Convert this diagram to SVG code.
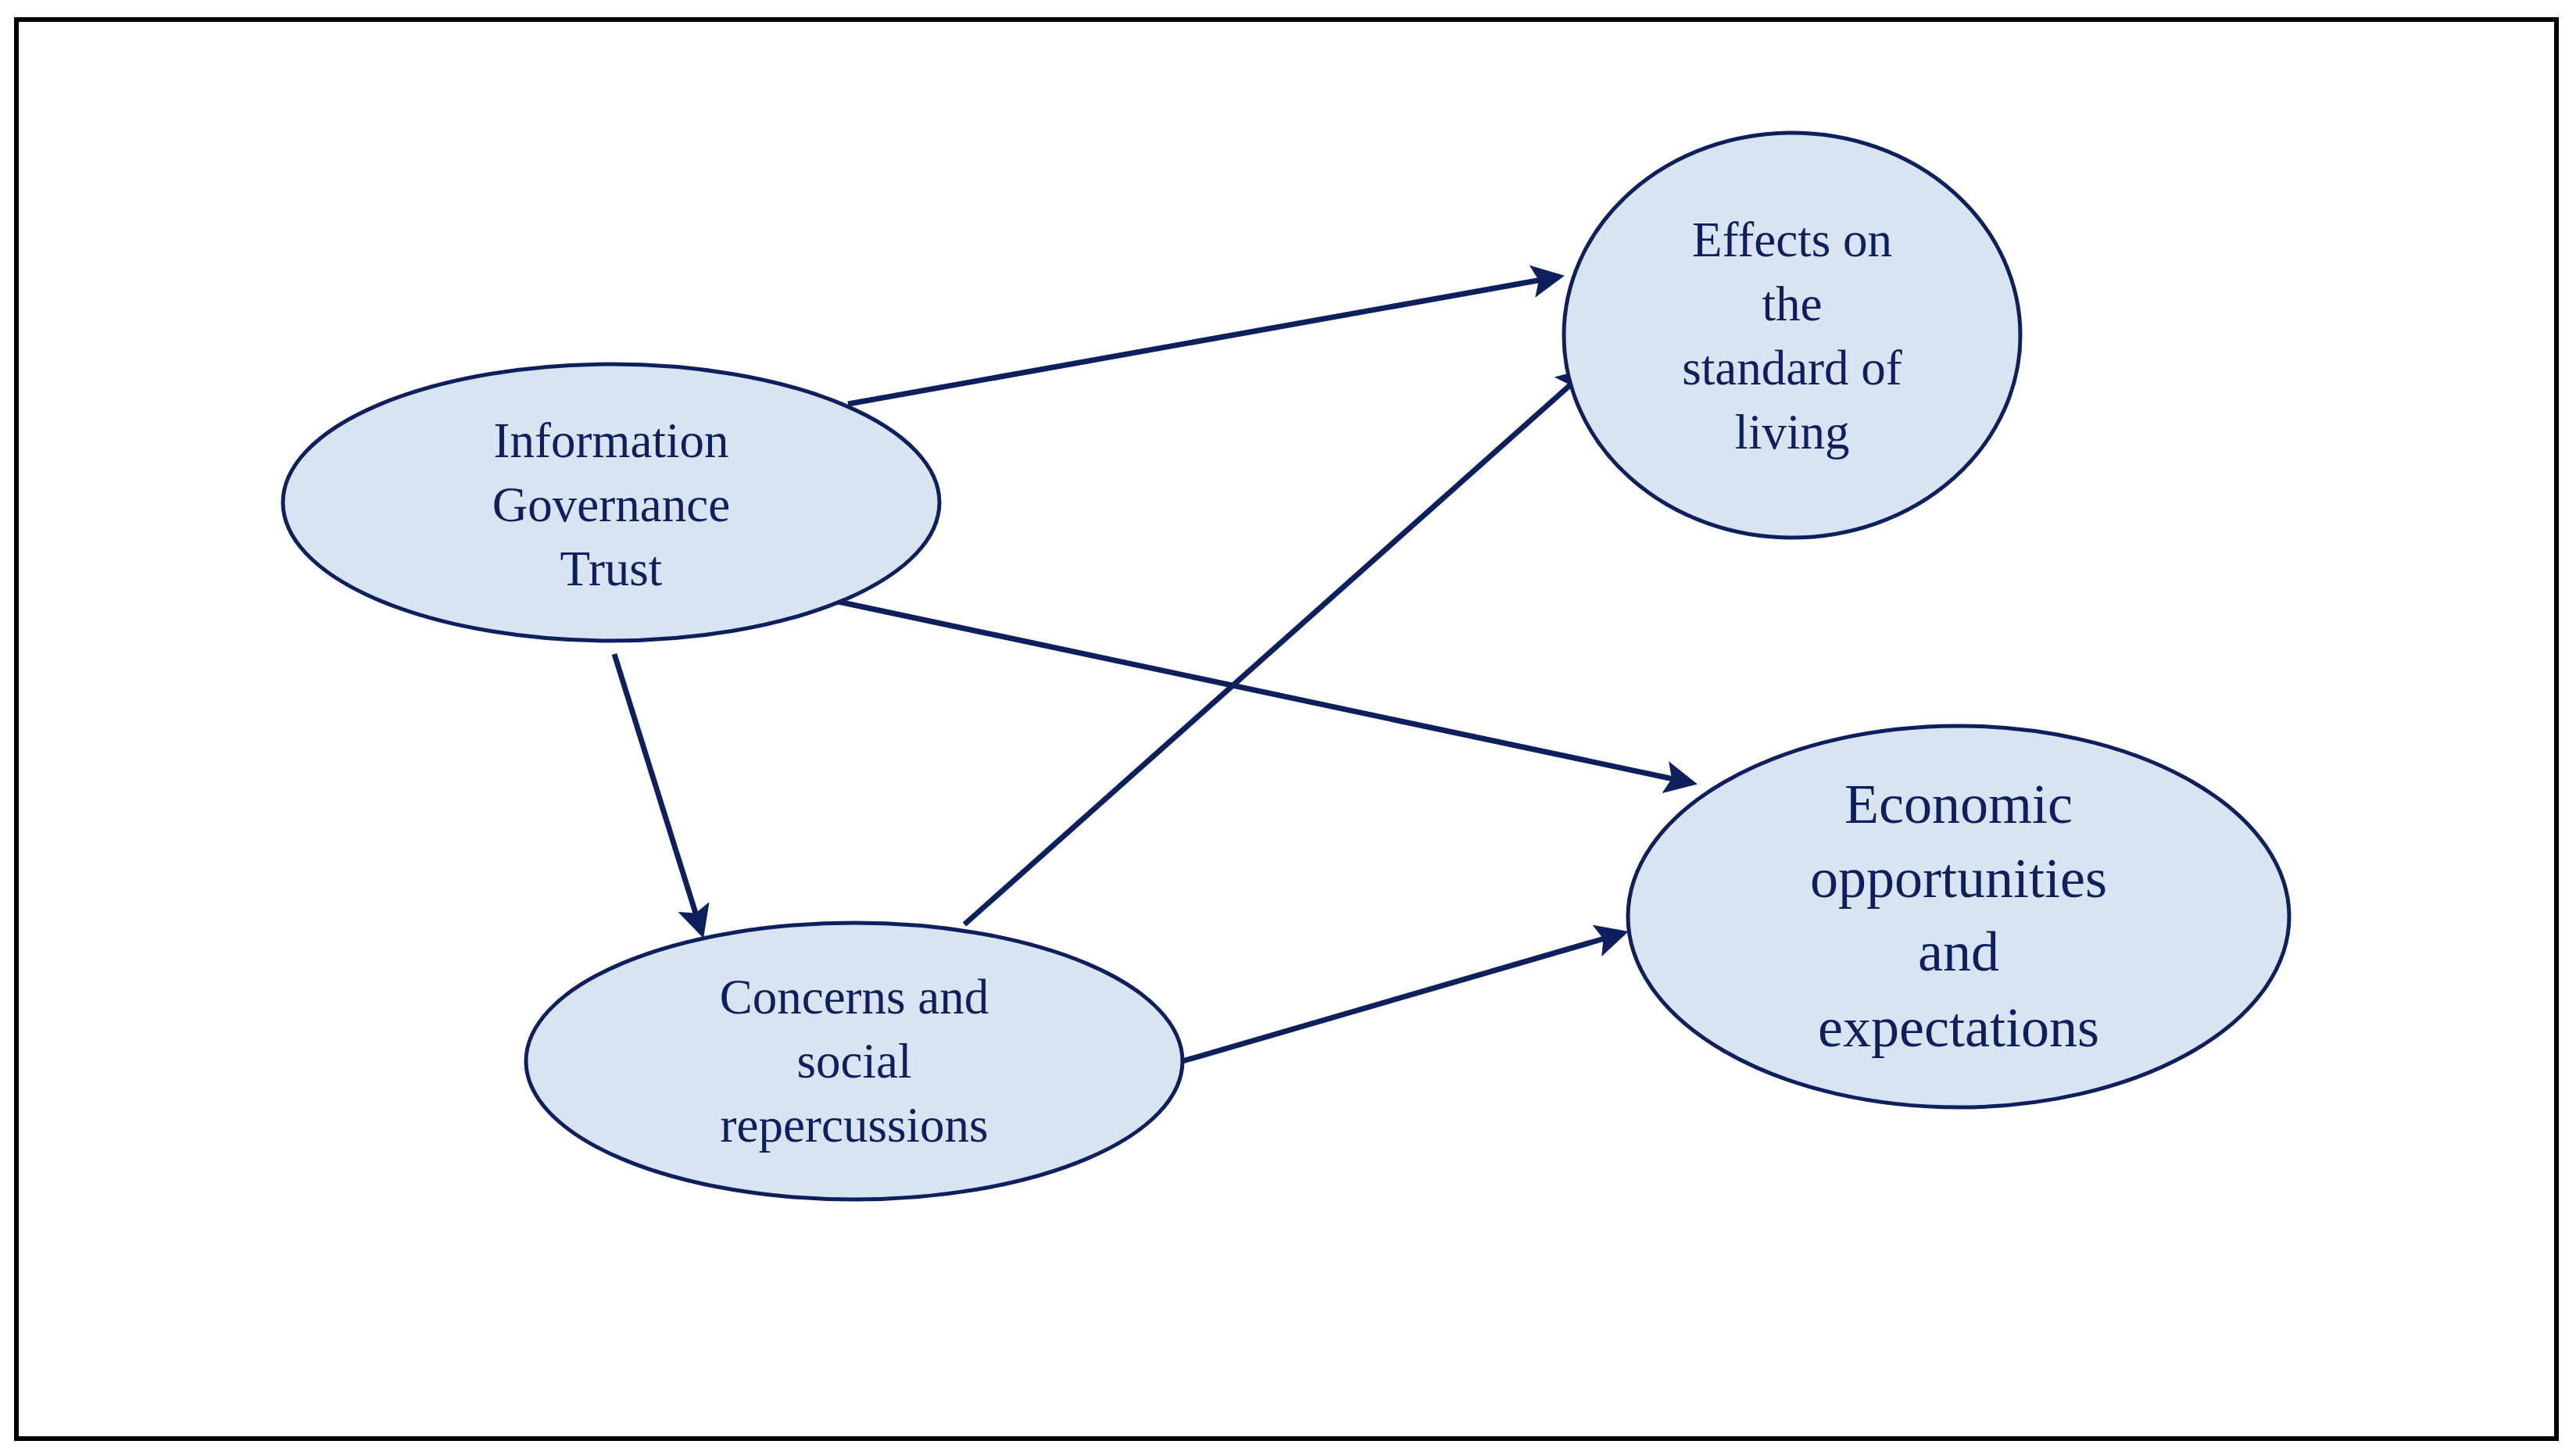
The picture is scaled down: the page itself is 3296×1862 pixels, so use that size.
<svg xmlns="http://www.w3.org/2000/svg" width="3296" height="1862" viewBox="0 0 3296 1862">
<style>
.n{fill:#d9e4f2;stroke:#0d1f5c;stroke-width:5}
.t{font-family:"Liberation Serif",serif;font-size:63px;fill:#0d1f5c;text-anchor:middle}
.b{font-size:72px}
.c{stroke:#0d1f5c;stroke-width:7;fill:none;marker-end:url(#a)}
</style>
<defs><marker id="a" markerWidth="6" markerHeight="6" refX="5" refY="3" orient="auto" markerUnits="strokeWidth"><path d="M0,0 L6,3 L0,6 L1.2,3 z" fill="#0d1f5c"/></marker></defs>
<rect x="0" y="0" width="3296" height="1862" fill="#fff"/>
<rect x="21" y="25" width="3250" height="1816" fill="#fff" stroke="#000" stroke-width="6"/>
<g id="connectors">
<line class="c" x1="1085" y1="517" x2="1995" y2="354"/>
<line class="c" x1="1068" y1="769" x2="2165" y2="1002"/>
<line class="c" x1="786" y1="837" x2="898" y2="1194"/>
<line class="c" x1="1234" y1="1183" x2="2029" y2="475"/>
<line class="c" x1="1513" y1="1358" x2="2077" y2="1194"/>
</g>
<g id="igt"><ellipse class="n" cx="782" cy="643" rx="420" ry="177"/>
<text class="t" x="782" y="585">Information</text><text class="t" x="782" y="667">Governance</text><text class="t" x="782" y="749">Trust</text></g>
<g id="effects"><ellipse class="n" cx="2293" cy="429" rx="292" ry="259"/>
<text class="t" x="2293" y="328">Effects on</text><text class="t" x="2293" y="410">the</text><text class="t" x="2293" y="492">standard of</text><text class="t" x="2293" y="574">living</text></g>
<g id="concerns"><ellipse class="n" cx="1093" cy="1358" rx="420" ry="177"/>
<text class="t" x="1093" y="1297">Concerns and</text><text class="t" x="1093" y="1379">social</text><text class="t" x="1093" y="1461">repercussions</text></g>
<g id="economic"><ellipse class="n" cx="2506" cy="1173" rx="423" ry="244"/>
<text class="t b" x="2506" y="1053">Economic</text><text class="t b" x="2506" y="1148">opportunities</text><text class="t b" x="2506" y="1242">and</text><text class="t b" x="2506" y="1339">expectations</text></g>
</svg>
